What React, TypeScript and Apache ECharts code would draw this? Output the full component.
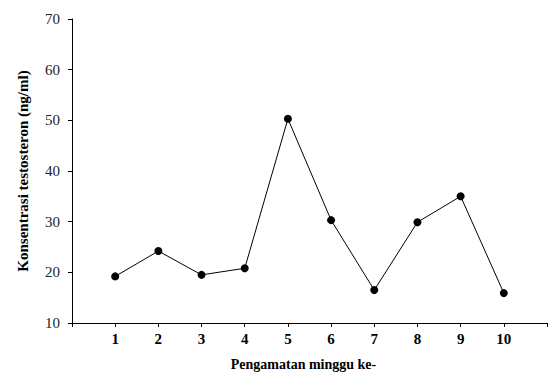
import React, { useEffect, useRef } from "react";
import * as echarts from "echarts";

const weeks = [1, 2, 3, 4, 5, 6, 7, 8, 9, 10];
const testosterone = [19.2, 24.2, 19.5, 20.8, 50.3, 30.3, 16.5, 29.9, 35.0, 15.9];
const yTicks = [10, 20, 30, 40, 50, 60, 70];

export default function App() {
  const ref = useRef<HTMLDivElement>(null);
  useEffect(() => {
    const chart = echarts.init(ref.current!, undefined, { renderer: "svg" });
    const font = "'Liberation Serif', 'Times New Roman', serif";
    chart.setOption({
      animation: false,
      backgroundColor: "#ffffff",
      grid: { left: 72, right: 0, top: 19, bottom: 50 },
      xAxis: {
        type: "value",
        min: 0,
        max: 11,
        interval: 1,
        name: "Pengamatan minggu ke-",
        nameLocation: "middle",
        nameGap: 34,
        nameTextStyle: { fontFamily: font, fontWeight: "bold", fontSize: 14, color: "#000", padding: [0, 12, 0, 0] },
        axisLine: { lineStyle: { color: "#000", width: 1 } },
        axisTick: { length: 4, lineStyle: { color: "#000" } },
        axisLabel: {
          fontFamily: font,
          fontWeight: "bold",
          fontSize: 15,
          color: "#000",
          margin: 8,
          formatter: (v: number) => (weeks.includes(v) ? String(v) : ""),
        },
        splitLine: { show: false },
      },
      yAxis: {
        type: "value",
        min: yTicks[0],
        max: yTicks[yTicks.length - 1],
        interval: 10,
        name: "Konsentrasi testosteron (ng/ml)",
        nameLocation: "middle",
        nameGap: 42,
        nameTextStyle: { fontFamily: font, fontWeight: "bold", fontSize: 15, color: "#000" },
        axisLine: { show: true, lineStyle: { color: "#000", width: 1 } },
        axisTick: { show: true, length: 4, lineStyle: { color: "#000" } },
        axisLabel: { fontFamily: font, fontSize: 15, color: "#222", margin: 12 },
        splitLine: { show: false },
      },
      series: [
        {
          type: "line",
          data: weeks.map((w, i) => [w, testosterone[i]]),
          symbol: "circle",
          symbolSize: 8,
          itemStyle: { color: "#000" },
          lineStyle: { color: "#000", width: 1 },
        },
      ],
    });
    return () => chart.dispose();
  }, []);
  return <div ref={ref} style={{ width: 550, height: 376, position: "absolute", left: 0, top: 0 }} />;
}
